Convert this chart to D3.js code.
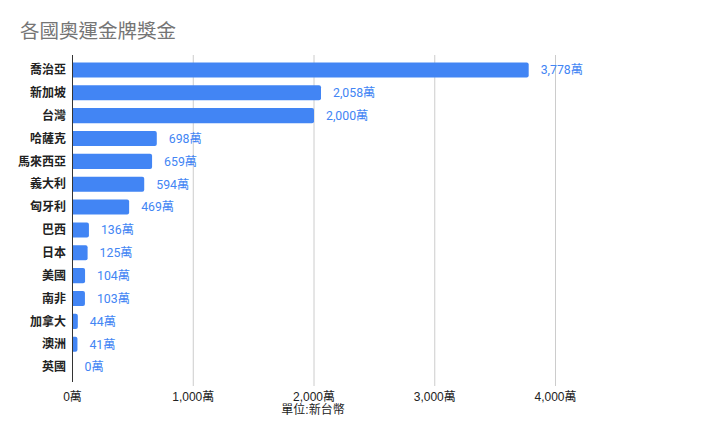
<!DOCTYPE html>
<html><head><meta charset="utf-8">
<script src="https://cdn.jsdelivr.net/npm/d3@7"></script>
<style>body{margin:0;background:#fff;}</style>
</head><body>
<svg id="c" width="719" height="421"></svg>
<script>
const categories = ["喬治亞","新加坡","台灣","哈薩克","馬來西亞","義大利","匈牙利","巴西","日本","美國","南非","加拿大","澳洲","英國"];
const values = [3778, 2058, 2000, 698, 659, 594, 469, 136, 125, 104, 103, 44, 41, 0];
const xTicks = [0, 1000, 2000, 3000, 4000];
const title = "各國奧運金牌獎金";
const axisTitle = "單位:新台幣";

(function () {
const svg = d3.select("#c");
const mLeft = 72.5, mRight = 555.5, mTop = 55, mBottom = 382;
const x = d3.scaleLinear().domain([0, 4000]).range([mLeft, mRight]);
const y = d3.scaleBand().domain(categories).range([58.5, 378.5]).paddingInner(0.34).paddingOuter(0.17);
const fmt = d3.format(",");
const cjk = "'Noto Sans CJK TC','Noto Sans CJK SC',sans-serif";

svg.append("text").attr("x", 20).attr("y", 38).text(title)
  .attr("font-family", "Roboto," + cjk).attr("font-size", 19.5).attr("fill", "#757575");

// gridlines
svg.append("g").selectAll("line").data(xTicks.slice(1)).join("line")
  .attr("x1", d => x(d)).attr("x2", d => x(d)).attr("y1", mTop).attr("y2", mBottom + 4)
  .attr("stroke", "#cccccc").attr("stroke-width", 1);

// bars
svg.append("g").selectAll("path").data(values).join("path")
  .attr("d", (d, i) => {
    const x0 = x(0), x1 = x(d), y0 = y(categories[i]), h = y.bandwidth();
    const r = Math.min(2, (x1 - x0) / 2);
    if (x1 - x0 <= 0) return "";
    return `M${x0},${y0}H${x1 - r}Q${x1},${y0} ${x1},${y0 + r}V${y0 + h - r}Q${x1},${y0 + h} ${x1 - r},${y0 + h}H${x0}Z`;
  })
  .attr("fill", "#4285f4");

// zero axis line
svg.append("line").attr("x1", x(0)).attr("x2", x(0)).attr("y1", mTop).attr("y2", mBottom)
  .attr("stroke", "#333").attr("stroke-width", 1);

// value labels
svg.append("g").selectAll("text").data(values).join("text")
  .attr("x", d => x(d) + 12).attr("y", (d, i) => y(categories[i]) + y.bandwidth() / 2)
  .attr("dy", "0.35em").text(d => fmt(d) + "萬")
  .attr("font-family", "Roboto," + cjk).attr("font-size", 12.3).attr("fill", "#4285f4");

// category labels
svg.append("g").selectAll("text").data(categories).join("text")
  .attr("x", 66).attr("y", d => y(d) + y.bandwidth() / 2).attr("dy", "0.35em")
  .attr("text-anchor", "end").text(d => d)
  .attr("font-family", cjk).attr("font-weight", "bold").attr("font-size", 12).attr("fill", "#222");

// x tick labels
svg.append("g").selectAll("text").data(xTicks).join("text")
  .attr("x", d => x(d)).attr("y", 401).attr("text-anchor", "middle")
  .text(d => fmt(d) + "萬")
  .attr("font-family", "'Liberation Sans',Arial," + cjk).attr("font-size", 12).attr("fill", "#222");

svg.append("text").attr("x", (mLeft + mRight) / 2 - 1).attr("y", 414).attr("text-anchor", "middle")
  .text(axisTitle).attr("font-family", "'Liberation Sans'," + cjk).attr("font-size", 12).attr("fill", "#222");
})();
</script>
</body></html>
